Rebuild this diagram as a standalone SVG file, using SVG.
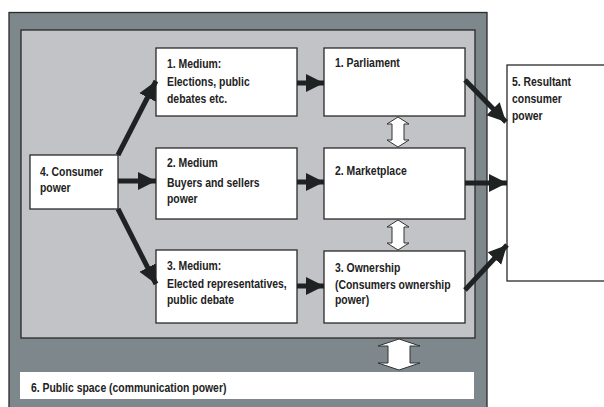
<svg xmlns="http://www.w3.org/2000/svg" width="604" height="407" viewBox="0 0 604 407">
  <style>
    .box { fill: #ffffff; stroke: #2a2a2a; stroke-width: 1.3; }
    .lbl { font-family: "Liberation Sans", Arial, sans-serif; font-weight: bold; font-size: 12.4px; fill: #222222; }
    .flow { stroke: #1f2223; stroke-width: 5; fill: none; }
    .dbl { fill: #ffffff; stroke: #333333; stroke-width: 1; }
  </style>
  <defs>
    <marker id="head" viewBox="0 0 10 10" refX="10" refY="5" markerWidth="3.7" markerHeight="4.2" markerUnits="strokeWidth" orient="auto">
      <path d="M0,0 L10,5 L0,10 Z" fill="#1f2223"/>
    </marker>
  </defs>
  <rect width="604" height="407" fill="#ffffff"/>

  <!-- frames -->
  <g id="frame-outer">
    <rect x="9" y="12.5" width="478" height="400" fill="#7d878c" stroke="#2a2a2a" stroke-width="1.3"/>
  </g>
  <g id="frame-inner">
    <rect x="21" y="30" width="454" height="308" fill="#c2c3c7" stroke="#2a2a2a" stroke-width="1.3"/>
  </g>

  <!-- nodes (labels are condensed horizontally) -->
  <g id="consumer-power">
    <rect class="box" x="30" y="155" width="88" height="54"/>
    <text class="lbl" transform="translate(40,176) scale(0.84,1)">4. Consumer</text>
    <text class="lbl" transform="translate(40,192) scale(0.84,1)">power</text>
  </g>
  <g id="medium-1">
    <rect class="box" x="156" y="48" width="141" height="68"/>
    <text class="lbl" transform="translate(167,68) scale(0.84,1)">1. Medium:</text>
    <text class="lbl" transform="translate(167,86) scale(0.84,1)">Elections, public</text>
    <text class="lbl" transform="translate(167,103) scale(0.84,1)">debates etc.</text>
  </g>
  <g id="medium-2">
    <rect class="box" x="156" y="148" width="141" height="71"/>
    <text class="lbl" transform="translate(167,167) scale(0.84,1)">2. Medium</text>
    <text class="lbl" transform="translate(167,187) scale(0.84,1)">Buyers and sellers</text>
    <text class="lbl" transform="translate(167,203) scale(0.84,1)">power</text>
  </g>
  <g id="medium-3">
    <rect class="box" x="156" y="250" width="141" height="73"/>
    <text class="lbl" transform="translate(167,270) scale(0.84,1)">3. Medium:</text>
    <text class="lbl" transform="translate(167,288) scale(0.84,1)">Elected representatives,</text>
    <text class="lbl" transform="translate(167,304) scale(0.84,1)">public debate</text>
  </g>
  <g id="parliament">
    <rect class="box" x="324" y="48" width="141" height="68"/>
    <text class="lbl" transform="translate(335,67) scale(0.84,1)">1. Parliament</text>
  </g>
  <g id="marketplace">
    <rect class="box" x="324" y="148" width="141" height="71"/>
    <text class="lbl" transform="translate(335,175) scale(0.84,1)">2. Marketplace</text>
  </g>
  <g id="ownership">
    <rect class="box" x="324" y="251" width="141" height="72"/>
    <text class="lbl" transform="translate(335,272) scale(0.84,1)">3. Ownership</text>
    <text class="lbl" transform="translate(335,289) scale(0.84,1)">(Consumers ownership</text>
    <text class="lbl" transform="translate(335,304) scale(0.84,1)">power)</text>
  </g>
  <g id="resultant-power">
    <rect class="box" x="507" y="65" width="110" height="216"/>
    <text class="lbl" transform="translate(512,86) scale(0.84,1)">5. Resultant</text>
    <text class="lbl" transform="translate(512,103) scale(0.84,1)">consumer</text>
    <text class="lbl" transform="translate(512,120) scale(0.84,1)">power</text>
  </g>
  <g id="public-space">
    <rect x="20" y="372" width="454" height="27" fill="#ffffff"/>
    <text class="lbl" transform="translate(31,392) scale(0.84,1)">6. Public space (communication power)</text>
  </g>

  <!-- connectors -->
  <g id="connectors">
    <line class="flow" x1="118" y1="155" x2="156" y2="81" marker-end="url(#head)"/>
    <line class="flow" x1="118" y1="181" x2="156" y2="181" marker-end="url(#head)"/>
    <line class="flow" x1="118" y1="209" x2="156" y2="284" marker-end="url(#head)"/>
    <line class="flow" x1="297" y1="83" x2="324" y2="83" marker-end="url(#head)"/>
    <line class="flow" x1="297" y1="182" x2="324" y2="182" marker-end="url(#head)"/>
    <line class="flow" x1="297" y1="286" x2="324" y2="286" marker-end="url(#head)"/>
    <line class="flow" x1="465" y1="80" x2="506" y2="122" marker-end="url(#head)"/>
    <line class="flow" x1="465" y1="183" x2="507" y2="183" marker-end="url(#head)"/>
    <line class="flow" x1="465" y1="290" x2="507" y2="245" marker-end="url(#head)"/>
    <!-- two-way links -->
    <path class="dbl" d="M398,117 L409,124 L404,124 L404,140 L409,140 L398,147 L387,140 L392,140 L392,124 L387,124 Z"/>
    <path class="dbl" d="M398,220 L409,227 L404,227 L404,243 L409,243 L398,250 L387,243 L392,243 L392,227 L387,227 Z"/>
    <path class="dbl" d="M399,339 L420,346 L410,346 L410,363 L420,363 L399,370 L378,363 L388,363 L388,346 L378,346 Z"/>
  </g>
</svg>
